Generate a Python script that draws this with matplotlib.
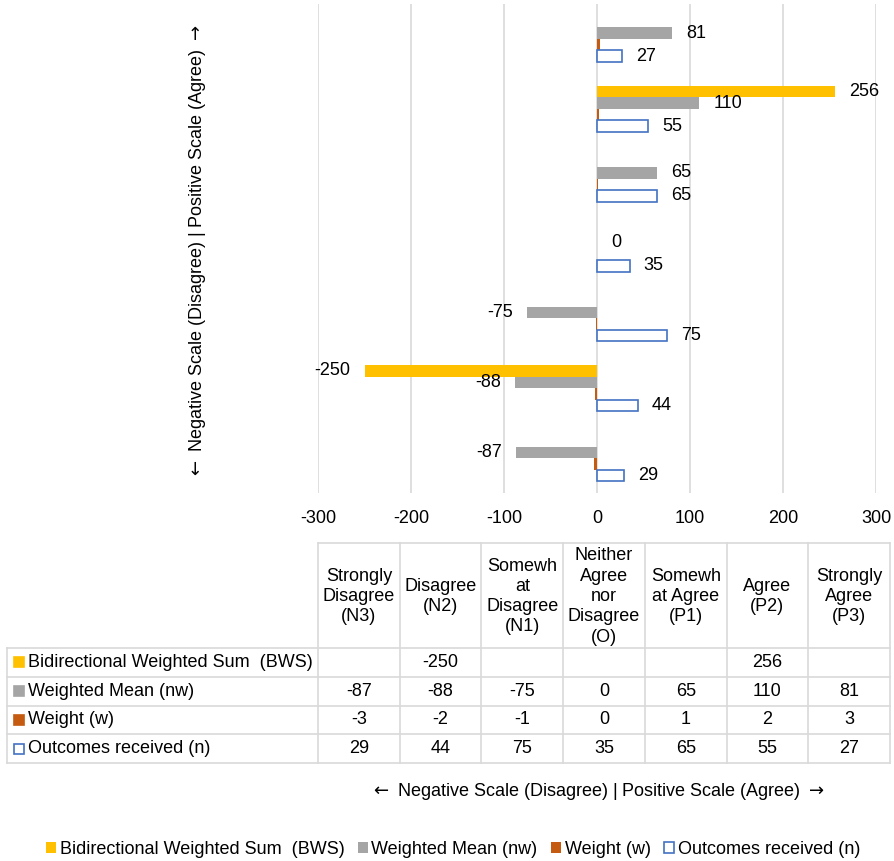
import numpy as np
import matplotlib
matplotlib.use('Agg')
import matplotlib.pyplot as plt
from matplotlib.patches import Patch, Rectangle

plt.rcParams['font.family'] = ['Liberation Sans', 'DejaVu Sans']
plt.rcParams['font.size'] = 13

# data, bottom (N3) to top (P3)
cats = ['Strongly\nDisagree\n(N3)', 'Disagree\n(N2)', 'Somewh\nat\nDisagree\n(N1)',
        'Neither\nAgree\nnor\nDisagree\n(O)', 'Somewh\nat Agree\n(P1)', 'Agree\n(P2)',
        'Strongly\nAgree\n(P3)']
bws = [np.nan, -250, np.nan, np.nan, np.nan, 256, np.nan]
w_mean = [-87, -88, -75, 0, 65, 110, 81]
weight = [-3, -2, -1, 0, 1, 2, 3]
outcomes = [29, 44, 75, 35, 65, 55, 27]
x_ticks = [-300, -200, -100, 0, 100, 200, 300]
axis_title = r'$\leftarrow$ Negative Scale (Disagree) | Positive Scale (Agree) $\rightarrow$'

names = ['Bidirectional Weighted Sum  (BWS)', 'Weighted Mean (nw)', 'Weight (w)',
         'Outcomes received (n)']
c_bws = '#FFC000'
c_mean = '#A5A5A5'
c_w = '#C55A11'
c_out = '#4472C4'
fs = 13

W, H = 894, 861
fig = plt.figure(figsize=(W / 100, H / 100), dpi=100)

# main bar chart
ax = fig.add_axes([318 / W, 1 - 493 / H, 558 / W, 489 / H])
y = np.arange(len(cats))
h = 0.165
b1 = ax.barh(y + 1.5 * h, bws, height=h, color=c_bws)
b2 = ax.barh(y + 0.5 * h, w_mean, height=h, color=c_mean)
b3 = ax.barh(y - 0.5 * h, weight, height=h, color=c_w)
b4 = ax.barh(y - 1.5 * h, outcomes, height=h, color='white', edgecolor=c_out, linewidth=1.2)

ax.bar_label(b1, labels=['' if np.isnan(v) else '%d' % v for v in bws], padding=10, fontsize=fs)
ax.bar_label(b2, labels=['%d' % v for v in w_mean], padding=10, fontsize=fs)
ax.bar_label(b4, labels=['%d' % v for v in outcomes], padding=10, fontsize=fs)

ax.set_xlim(-300, 300)
ax.set_ylim(-0.5, len(cats) - 0.5)
ax.set_xticks(x_ticks)
ax.set_xticklabels(['%d' % t for t in x_ticks])
ax.tick_params(axis='x', length=0, pad=12, labelsize=fs)
ax.set_yticks([])
ax.grid(axis='x', color='#D9D9D9', linewidth=1.2)
ax.set_axisbelow(True)
for s in ax.spines.values():
    s.set_visible(False)

fig.text(197 / W, 1 - 252 / H, axis_title, rotation=90, ha='center', va='center', fontsize=fs)
fig.text(597 / W, 1 - 791 / H, axis_title, ha='center', va='center', fontsize=fs)

# data table
tab = fig.add_axes([0, 0, 1, 1])
tab.set_xlim(0, W)
tab.set_ylim(H, 0)
tab.axis('off')
lc = '#D9D9D9'
col_x = np.linspace(318, 890, len(cats) + 1)
row_y = np.linspace(648, 763, 5)
head_top = 543
tab.plot([col_x[0], col_x[-1]], [head_top, head_top], color=lc, lw=1.2)
for xx in col_x:
    tab.plot([xx, xx], [head_top, row_y[-1]], color=lc, lw=1.2)
for yy in row_y:
    tab.plot([7, col_x[-1]], [yy, yy], color=lc, lw=1.2)
tab.plot([7, 7], [row_y[0], row_y[-1]], color=lc, lw=1.2)

for i, c in enumerate(cats):
    tab.text((col_x[i] + col_x[i + 1]) / 2, (head_top + row_y[0]) / 2 + 1, c,
             ha='center', va='center', fontsize=fs, linespacing=1.25, multialignment='center')

rows = [bws, w_mean, weight, outcomes]
keys = [(c_bws, c_bws), (c_mean, c_mean), (c_w, c_w), ('white', c_out)]
for r, vals in enumerate(rows):
    yc = (row_y[r] + row_y[r + 1]) / 2
    fc, ec = keys[r]
    tab.add_patch(Rectangle((14, yc - 5), 10, 10, facecolor=fc, edgecolor=ec, lw=1.2))
    tab.text(28, yc, names[r], ha='left', va='center', fontsize=fs)
    for i, v in enumerate(vals):
        if np.isnan(v):
            continue
        tab.text((col_x[i] + col_x[i + 1]) / 2, yc, '%d' % v, ha='center', va='center', fontsize=fs)

# legend
handles = [Patch(facecolor=c_bws), Patch(facecolor=c_mean), Patch(facecolor=c_w),
           Patch(facecolor='white', edgecolor=c_out, linewidth=1.2)]
fig.legend(handles, names, loc='center', bbox_to_anchor=(453 / W, 1 - 849 / H), ncol=4,
           frameon=False, fontsize=fs, handlelength=0.55, handleheight=0.55,
           handletextpad=0.2, columnspacing=0.75)

fig.savefig('out.png', dpi=100)
